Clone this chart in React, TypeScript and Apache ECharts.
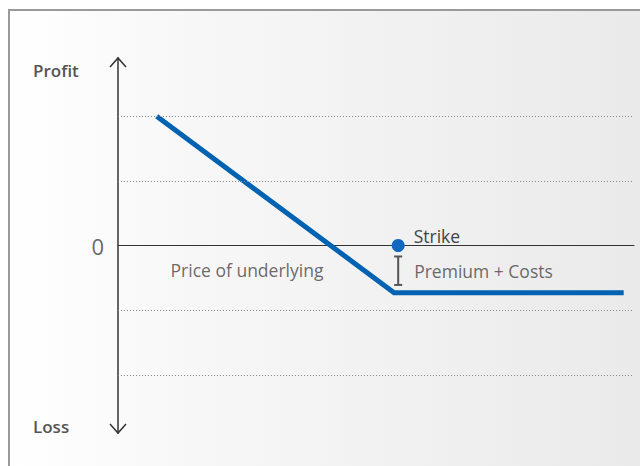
import React, { useEffect, useRef } from "react";
import * as echarts from "echarts";

// Data (x: price of underlying in arbitrary units, y: profit/loss units)
const payoffX = [0.75, 5.35, 9.8];
const payoffY = [2, -0.73, -0.73];
const strikePoint = [5.43, 0];
const costBar = [-0.17, -0.61];
const gridLevels = [2, 1, -1, -2];
const xRange = [0, 10];
const yRange = [-2.9, 2.9];
const textLabels = [
  { name: "Price of underlying", x: 2.5, y: -0.38 },
];
const premiumLabel = { name: "Premium + Costs", y: -0.39 };

const GRID = { left: 118, right: 6, top: 58, bottom: 33 };
const W = 640;
const H = 466;
const FONT = "'Open Sans', 'Noto Sans', sans-serif";

export default function App() {
  const ref = useRef<HTMLDivElement>(null);
  useEffect(() => {
    if (!ref.current) return;
    const chart = echarts.init(ref.current, null, { renderer: "svg" });
    const axX = GRID.left;
    const topY = GRID.top;
    const botY = H - GRID.bottom;
    const option: any = {
      animation: false,
      backgroundColor: "transparent",
      grid: { ...GRID, containLabel: false },
      xAxis: {
        type: "value",
        min: xRange[0],
        max: xRange[1],
        axisLine: { show: true, onZero: true, lineStyle: { color: "#333", width: 1 } },
        axisTick: { show: false },
        axisLabel: { show: false },
        splitLine: { show: false },
      },
      yAxis: {
        type: "value",
        min: yRange[0],
        max: yRange[1],
        axisLine: { show: true, lineStyle: { color: "#333", width: 1.5 } },
        axisTick: { show: false },
        splitLine: { show: false },
        axisLabel: {
          show: true,
          margin: 14,
          fontSize: 22,
          color: "#6a6a6a",
          fontFamily: FONT,
          fontWeight: "normal",
          formatter: (v: number) => (Math.abs(v) < 1e-9 ? "0" : ""),
        },
      },
      graphic: [
        {
          type: "polyline",
          shape: { points: [[axX - 8, topY + 9], [axX, topY], [axX + 8, topY + 9]] },
          style: { stroke: "#333", lineWidth: 1.5, fill: null },
        },
        {
          type: "polyline",
          shape: { points: [[axX - 8, botY - 9], [axX, botY], [axX + 8, botY - 9]] },
          style: { stroke: "#333", lineWidth: 1.5, fill: null },
        },
        {
          type: "text",
          left: 33,
          top: 62,
          style: { text: "Profit", font: `600 17px ${FONT}`, fill: "#555" },
        },
        {
          type: "text",
          left: 33,
          top: 418,
          style: { text: "Loss", font: `600 17px ${FONT}`, fill: "#555" },
        },
      ],
      series: [
        {
          type: "line",
          data: [],
          silent: true,
          markLine: {
            silent: true,
            symbol: "none",
            label: { show: false },
            lineStyle: { color: "#888", type: [1, 2], width: 1 },
            data: gridLevels.map((v) => ({ yAxis: v })),
          },
        },
        {
          type: "line",
          data: payoffX.map((x, i) => [x, payoffY[i]]),
          symbol: "none",
          z: 3,
          lineStyle: { color: "#0062B1", width: 5, cap: "butt", join: "miter" },
        },
        {
          type: "line",
          data: costBar.map((y) => [strikePoint[0], y]),
          symbol: "rect",
          symbolSize: [8, 2],
          showSymbol: true,
          z: 4,
          itemStyle: { color: "#555" },
          lineStyle: { color: "#555", width: 2 },
        },
        {
          type: "scatter",
          data: [strikePoint],
          symbolSize: 13,
          z: 5,
          itemStyle: { color: "#1168BE", opacity: 1 },
          label: {
            show: true,
            position: "right",
            distance: 9,
            offset: [0, -10],
            formatter: "Strike",
            fontSize: 17.5,
            color: "#444",
            fontFamily: FONT,
          },
        },
        {
          type: "scatter",
          data: [[strikePoint[0], premiumLabel.y]],
          symbolSize: 0,
          z: 5,
          label: {
            show: true,
            position: "right",
            distance: 16,
            formatter: premiumLabel.name,
            fontSize: 17.5,
            color: "#444",
            fontFamily: FONT,
          },
        },
        {
          type: "scatter",
          data: textLabels.map((t) => ({ name: t.name, value: [t.x, t.y] })),
          symbolSize: 0,
          z: 5,
          label: {
            show: true,
            position: "inside",
            formatter: "{b}",
            fontSize: 17.5,
            color: "#444",
            fontFamily: FONT,
          },
        },
      ],
    };
    chart.setOption(option);
    return () => chart.dispose();
  }, []);

  return (
    <div style={{ position: "fixed", left: 0, top: 0, width: W, height: H, background: "#fff" }}>
      <div
        style={{
          position: "absolute",
          left: 8,
          top: 9,
          right: 0,
          bottom: 0,
          borderTop: "2px solid #9a9a9a",
          borderLeft: "2px solid #9a9a9a",
          background: "linear-gradient(to right, #ffffff 0%, #f7f7f7 30%, #eaeaea 100%)",
        }}
      />
      <div ref={ref} style={{ position: "absolute", left: 0, top: 0, width: W, height: H }} />
    </div>
  );
}
